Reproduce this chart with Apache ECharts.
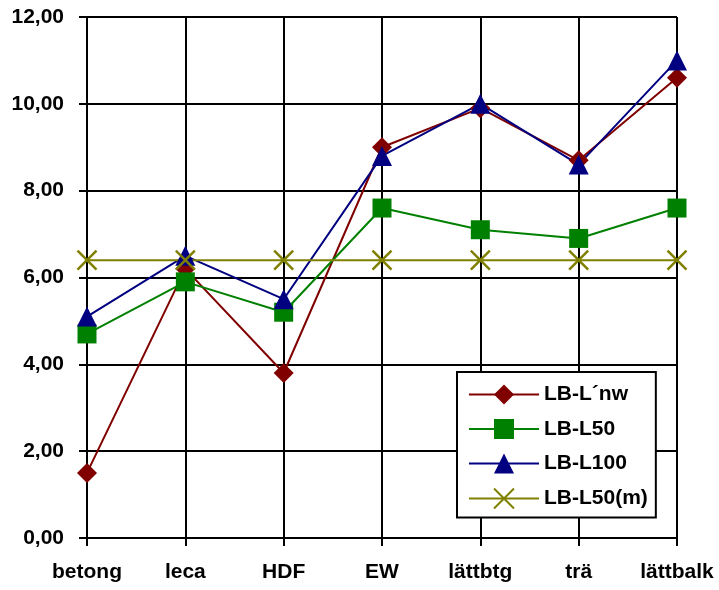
<!DOCTYPE html>
<html>
<head>
<meta charset="utf-8">
<script src="https://cdn.jsdelivr.net/npm/echarts@6/dist/echarts.min.js"></script>
<style>
  html, body { margin: 0; padding: 0; background: #fff; }
  #chart { width: 719px; height: 590px; }
</style>
</head>
<body>
<div id="chart"></div>
<script>
// Material categories along the x axis
const categories = ['betong', 'leca', 'HDF', 'EW', 'lättbtg', 'trä', 'lättbalk'];

// Series values
const lbLnw   = [1.5, 6.2, 3.8, 9.0, 9.9, 8.7, 10.6];
const lbL50   = [4.7, 5.9, 5.2, 7.6, 7.1, 6.9, 7.6];
const lbL100  = [5.1, 6.5, 5.5, 8.8, 10.0, 8.6, 11.0];
const lbL50m  = [6.4, 6.4, 6.4, 6.4, 6.4, 6.4, 6.4];

// Value axis range
const yMin = 0, yMax = 12, yStep = 2;

const FONT = 'Liberation Sans, Arial, sans-serif';
const crossPath = 'path://M0,0L10,10M10,0L0,10';

function lineSeries(name, data, color, symbol, size, extraItemStyle) {
  return {
    name: name,
    type: 'line',
    data: data,
    symbol: symbol,
    symbolSize: size,
    lineStyle: { color: color, width: 2 },
    itemStyle: Object.assign({ color: color }, extraItemStyle || {}),
    emphasis: { disabled: true },
    animation: false
  };
}

const chart = echarts.init(document.getElementById('chart'), null, { renderer: 'canvas' });

chart.setOption({
  backgroundColor: '#ffffff',
  animation: false,
  grid: { left: 87, right: 42, top: 17, bottom: 52, containLabel: false },
  xAxis: {
    type: 'category',
    data: categories,
    boundaryGap: false,
    axisLine: { lineStyle: { color: '#000', width: 2 } },
    axisTick: { show: true, length: 8, lineStyle: { color: '#000', width: 2 } },
    axisLabel: { color: '#000', fontFamily: FONT, fontWeight: 'bold', fontSize: 21, margin: 24 },
    splitLine: { show: true, lineStyle: { color: '#000', width: 2 } }
  },
  yAxis: {
    type: 'value',
    min: yMin,
    max: yMax,
    interval: yStep,
    axisLine: { show: true, lineStyle: { color: '#000', width: 2 } },
    axisTick: { show: true, length: 8, lineStyle: { color: '#000', width: 2 } },
    axisLabel: {
      color: '#000', fontFamily: FONT, fontWeight: 'bold', fontSize: 21, margin: 23,
      formatter: v => v.toFixed(2).replace('.', ',')
    },
    splitLine: { show: true, lineStyle: { color: '#000', width: 2 } }
  },
  legend: {
    orient: 'vertical',
    left: 457,
    top: 372,
    backgroundColor: '#fff',
    borderColor: '#000',
    borderWidth: 2,
    borderRadius: 0,
    padding: [12, 8, 8, 11],
    itemWidth: 70,
    itemHeight: 25,
    itemGap: 13.5,
    textStyle: { color: '#000', fontFamily: FONT, fontWeight: 'bold', fontSize: 21 },
    data: ['LB-L´nw', 'LB-L50', 'LB-L100', 'LB-L50(m)']
  },
  series: [
    lineSeries('LB-L´nw', lbLnw, '#800000', 'diamond', 20),
    lineSeries('LB-L50', lbL50, '#008000', 'rect', 19),
    lineSeries('LB-L100', lbL100, '#000080', 'triangle', 20),
    lineSeries('LB-L50(m)', lbL50m, '#808000', crossPath, 19,
      { borderColor: '#808000', borderWidth: 2.5 })
  ]
});
</script>
</body>
</html>
